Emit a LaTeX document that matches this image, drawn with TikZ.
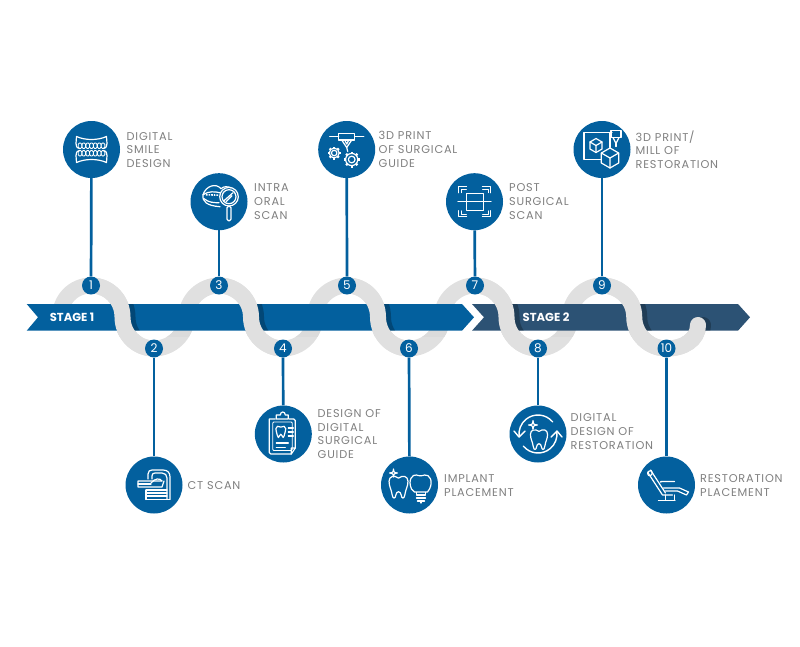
\documentclass[tikz,border=0pt]{standalone}
\usepackage{fontspec}
\setmainfont{Poppins}
\usetikzlibrary{arrows.meta,calc}
\definecolor{barblue}{HTML}{03609E}
\definecolor{bardark}{HTML}{2C5274}
\definecolor{wavegray}{HTML}{E0E0E0}
\definecolor{labelgray}{HTML}{7F7F7F}
\newcommand\toothpath{(-9,-5) .. controls (-9,-10) and (-4,-11) .. (0,-8) .. controls (4,-11) and (9,-10) .. (9,-5) .. controls (9,0) and (7,2) .. (6,8) .. controls (5.5,12) and (3,12) .. (2.5,8) .. controls (2,4) and (-2,4) .. (-2.5,8) .. controls (-3,12) and (-5.5,12) .. (-6,8) .. controls (-7,2) and (-9,0) .. (-9,-5) -- cycle}
\newcommand\sparkle[3]{\draw[icon,shift={(#1,#2)}] (0,-#3) .. controls (0.5,-0.5) .. (#3,0) .. controls (0.5,0.5) .. (0,#3) .. controls (-0.5,0.5) .. (-#3,0) .. controls (-0.5,-0.5) .. (0,-#3) -- cycle;}
\newcommand\gearicon[3]{\begin{scope}[shift={(#1,#2)}]
\draw[icon] (0,0) circle (0.42*#3) (0,0) circle (0.76*#3);
\foreach \a in {0,45,...,315} \draw[icon,line width=2.2pt,line cap=butt] (\a+0:0.76*#3) -- (\a+0:#3);
\end{scope}}
\newcommand\cubeicon[3]{\begin{scope}[shift={(#1,#2)}]
\draw[icon,line join=round] (90:#3) -- (30:#3) -- (-30:#3) -- (-90:#3) -- (-150:#3) -- (150:#3) -- cycle;
\draw[icon] (0,0) -- (90:#3) (0,0) -- (-30:#3) (0,0) -- (-150:#3);
\end{scope}}
\tikzset{
  x=1pt,y=-1pt,
  wave/.style={draw=wavegray,line width=16pt},
  icon/.style={draw=white,line width=1.2pt,line cap=round,line join=round},
  iconcircle/.style={circle,fill=barblue,minimum size=57pt,inner sep=0pt},
  numcircle/.style={circle,fill=barblue,minimum size=18pt,inner sep=0pt,text=white,font=\fontsize{12}{12}\selectfont},
  stem/.style={draw=barblue,line width=2.7pt},
  lab/.style={anchor=west,inner sep=0pt,align=left,text=labelgray,font=\fontsize{11.3}{13.7}\selectfont\addfontfeatures{LetterSpace=7}},
  stage/.style={inner sep=0pt,text=white,font=\fontsize{11.6}{12}\bfseries\selectfont},
}
\newcommand\barone{(26.7,304) -- (462,304) -- (474,317.3) -- (462,330.7) -- (26.7,330.7) -- (38,317.3) -- cycle}
\newcommand\bartwo{(472,304) -- (738,304) -- (750,317.3) -- (738,330.7) -- (472,330.7) -- (484,317.3) -- cycle}
\begin{document}
\begin{tikzpicture}
\useasboundingbox (0,0) rectangle (800,646);
\coordinate (w1) at (91,285.5);\coordinate (w2) at (154,348.5);
\coordinate (w3) at (219,285.5);\coordinate (w4) at (283,348.5);
\coordinate (w5) at (347,285.5);\coordinate (w6) at (409,348.5);
\coordinate (w7) at (475,285.5);\coordinate (w8) at (538,348.5);
\coordinate (w9) at (602,285.5);\coordinate (w10) at (666.5,348.5);
\coordinate (ws) at (60,317);\coordinate (we) at (698,325);
\newcommand\fullwave{(ws) .. controls +(0,-17.5) and +(-17.5,0) .. (w1)
 .. controls +(17.5,0) and +(0,-17.5) .. ($(w1)!.5!(w2)$) .. controls +(0,17.5) and +(-17.5,0) .. (w2)
 .. controls +(17.5,0) and +(0,17.5) .. ($(w2)!.5!(w3)$) .. controls +(0,-17.5) and +(-17.5,0) .. (w3)
 .. controls +(17.5,0) and +(0,-17.5) .. ($(w3)!.5!(w4)$) .. controls +(0,17.5) and +(-17.5,0) .. (w4)
 .. controls +(17.5,0) and +(0,17.5) .. ($(w4)!.5!(w5)$) .. controls +(0,-17.5) and +(-17.5,0) .. (w5)
 .. controls +(17.5,0) and +(0,-17.5) .. ($(w5)!.5!(w6)$) .. controls +(0,17.5) and +(-17.5,0) .. (w6)
 .. controls +(17.5,0) and +(0,17.5) .. ($(w6)!.5!(w7)$) .. controls +(0,-17.5) and +(-17.5,0) .. (w7)
 .. controls +(17.5,0) and +(0,-17.5) .. ($(w7)!.5!(w8)$) .. controls +(0,17.5) and +(-17.5,0) .. (w8)
 .. controls +(17.5,0) and +(0,17.5) .. ($(w8)!.5!(w9)$) .. controls +(0,-17.5) and +(-17.5,0) .. (w9)
 .. controls +(17.5,0) and +(0,-17.5) .. ($(w9)!.5!(w10)$) .. controls +(0,17.5) and +(-17.5,0) .. (w10)
 .. controls +(17,0) and +(0,15) .. (we)}
\newcommand\downwave{(w1) .. controls +(17.5,0) and +(0,-17.5) .. ($(w1)!.5!(w2)$) .. controls +(0,17.5) and +(-17.5,0) .. (w2)
 (w3) .. controls +(17.5,0) and +(0,-17.5) .. ($(w3)!.5!(w4)$) .. controls +(0,17.5) and +(-17.5,0) .. (w4)
 (w5) .. controls +(17.5,0) and +(0,-17.5) .. ($(w5)!.5!(w6)$) .. controls +(0,17.5) and +(-17.5,0) .. (w6)
 (w7) .. controls +(17.5,0) and +(0,-17.5) .. ($(w7)!.5!(w8)$) .. controls +(0,17.5) and +(-17.5,0) .. (w8)
 (w9) .. controls +(17.5,0) and +(0,-17.5) .. ($(w9)!.5!(w10)$) .. controls +(0,17.5) and +(-17.5,0) .. (w10)}
\newcommand\lastwave{(w10) .. controls +(17,0) and +(0,15) .. (we)}
\draw[wave] \fullwave;
% soft shade under the bars on the rising parts
\begin{scope}
\clip (26,330) rectangle (750,336);
\draw[draw=black!14,line width=16pt] \fullwave;
\end{scope}
\fill[barblue] \barone;
\fill[bardark] \bartwo;
% cast shadow on the bars
\begin{scope}
\clip \barone \bartwo;
\begin{scope}[transform canvas={xshift=5pt}]
\draw[draw=black,opacity=.25,line width=16pt] \downwave;
\draw[draw=black,opacity=.25,line width=16pt,line cap=round] \lastwave;
\end{scope}
\end{scope}
\draw[wave] \downwave;
\draw[wave,line cap=round] \lastwave;
% stage labels
\node[stage] (s1) at (72,317.3) {STAGE 1};
\node[stage] (s2) at (546,317.3) {STAGE 2};
% nodes
\foreach \n/\x/\y in {1/91.5/149.5,2/154/485,3/219/201.7,4/283.3/434,5/346.7/149.5,6/409.5/485,7/474.5/201.7,8/538/434,9/602/149.5,10/666.5/485}{
  \node[iconcircle] (c\n) at (\x,\y) {};
  \node[numcircle] (n\n) at (w\n) {\n};
  \draw[stem] (c\n) -- (n\n);
}
% labels
\node[lab] (l1) at (126.5,150) {DIGITAL\\SMILE\\DESIGN};
\node[lab] (l2) at (187.5,485.5) {CT SCAN};
\node[lab] (l3) at (254,201.5) {INTRA\\ORAL\\SCAN};
\node[lab] (l4) at (317.5,434) {DESIGN OF\\DIGITAL\\SURGICAL\\GUIDE};
\node[lab] (l5) at (378.5,149.5) {3D PRINT\\OF SURGICAL\\GUIDE};
\node[lab] (l6) at (444,485.5) {IMPLANT\\PLACEMENT};
\node[lab] (l7) at (509,201.5) {POST\\SURGICAL\\SCAN};
\node[lab] (l8) at (570.5,431.5) {DIGITAL\\DESIGN OF\\RESTORATION};
\node[lab] (l9) at (635.5,149.5) {3D PRINT/\\MILL OF\\RESTORATION};
\node[lab] (l10) at (700,485.5) {RESTORATION\\PLACEMENT};
% icon 1: dentures
\begin{scope}[shift={(c1)}]
\draw[icon] (-15,-13) .. controls (-6,-9) and (6,-9) .. (15,-13) -- (15.5,-6) .. controls (15,-2) and (14,-1) .. (12,-1);
\draw[icon] (-15,-13) -- (-15.5,-6) .. controls (-15,-2) and (-14,-1) .. (-12,-1);
\draw[icon] (-15,13) .. controls (-6,9) and (6,9) .. (15,13) -- (15.5,6) .. controls (15,2) and (14,1) .. (12,1);
\draw[icon] (-15,13) -- (-15.5,6) .. controls (-15,2) and (-14,1) .. (-12,1);
\foreach \tx in {-11.5,-7.7,-3.8,0,3.8,7.7,11.5}{
 \draw[icon,line width=.9pt,rounded corners=1.3pt] (\tx-1.8,-6.5) rectangle (\tx+1.8,-1);
 \draw[icon,line width=.9pt,rounded corners=1.3pt] (\tx-1.8,1) rectangle (\tx+1.8,6.5);
}
\end{scope}
% icon 3: mouth and magnifier
\begin{scope}[shift={(c3)}]
\draw[icon] (2,-13) .. controls (-3,-19) and (-13,-16) .. (-16,-7) .. controls (-17,0) and (-12,4) .. (1,5);
\draw[icon] (2,-13) .. controls (5,-16) and (9,-15) .. (12,-14);
\draw[icon] (-16,-7) .. controls (-10,-11) and (-4,-10) .. (1,-9);
\draw[icon] (-15,-3) .. controls (-10,1) and (-5,1) .. (0,1);
\draw[icon,dash pattern=on 1.6pt off 1pt,line cap=butt,line width=1.6pt] (-13,-7) -- (0,-6.5);
\draw[icon] (10,-5) circle (9.3) (10,-5) circle (7);
\draw[icon] (5,-1) -- (14,-9) (7,0) -- (13,-6);
\draw[icon,rounded corners=1.5pt] (8,4.5) rectangle (12,19);
\end{scope}
% icon 5: printer and gears
\begin{scope}[shift={(c5)}]
\draw[icon,line width=1.4pt] (-17,-13) -- (-8,-13) (8,-13) -- (17,-13);
\draw[icon] (-8,-16) rectangle (8,-9.5);
\draw[icon] (-5,-9.5) -- (0,-2) -- (5,-9.5) (-2,-9.5) -- (0,-5.5) -- (2,-9.5);
\draw[icon] (0,-2) -- (1,2);
\gearicon{-12.5}{3.5}{6.5}
\gearicon{5}{10}{8}
\end{scope}
% icon 7: scan frame
\begin{scope}[shift={(c7)}]
\draw[icon] (-16,-9) -- (-16,-15) -- (-8,-15) (16,-9) -- (16,-15) -- (8,-15) (-16,9) -- (-16,15) -- (-8,15) (16,9) -- (16,15) -- (8,15);
\draw[icon,line width=.8pt] (-13.5,-9) -- (-13.5,-12.5) -- (-8,-12.5) (13.5,-9) -- (13.5,-12.5) -- (8,-12.5) (-13.5,9) -- (-13.5,12.5) -- (-8,12.5) (13.5,9) -- (13.5,12.5) -- (8,12.5);
\draw[icon,line width=.8pt] (-8.5,-8.5) rectangle (8.5,8.5);
\draw[icon] (-16.5,0) -- (16.5,0);
\end{scope}
% icon 9: printer with cubes
\begin{scope}[shift={(c9)}]
\draw[icon,line width=1.4pt] (10,-17) -- (-18,-17) -- (-18,10) -- (-1,10);
\draw[icon] (8,-17) -- (8,-2);
\draw[icon] (9,-19) rectangle (19,-12);
\draw[icon] (11,-12) -- (14,-6) -- (17,-12);
\draw[icon] (14,-6) -- (14,-3);
\cubeicon{-6}{-4}{7}
\fill[barblue] (8,-1.5) -- ++(8.7,5) -- ++(0,10) -- ++(-8.7,5) -- ++(-8.7,-5) -- ++(0,-10) -- cycle;
\cubeicon{8}{8.5}{10}
\end{scope}
% icon 2: CT scanner
\begin{scope}[shift={(c2)}]
\draw[icon] (-6,-6) -- (-6,-11) .. controls (-6,-14) and (-4,-15) .. (-2,-15) -- (9,-15) .. controls (14,-15) and (16,-12) .. (16,-8) -- (16,14);
\draw[icon] (-2,-6) -- (-2,-9) .. controls (-2,-11) and (-1,-12) .. (1,-12) -- (8,-12) .. controls (11,-12) and (13,-10) .. (13,-7) -- (13,14);
\draw[icon] (-16,-4) -- (8,-4) (-16,-4) -- (-16,2) -- (8,2) -- (10,-4);
\draw[icon] (-16,-1) -- (-3,-1);
\draw[icon] (-3,-2) .. controls (1,-7) and (6,-7) .. (8,-4);
\draw[icon] (-8,5) -- (13,5) (-8,8) -- (13,8) (-8,11) -- (13,11) (-8,14.5) -- (16,14.5) (-8,5) -- (-8,14.5);
\end{scope}
% icon 4: clipboard
\begin{scope}[shift={(c4)}]
\draw[icon,rounded corners=1.5pt] (-14,-15) -- (-14,20) -- (8,20) (12,14) -- (12,-15) -- (6,-15) (-8,-15) -- (-14,-15);
\draw[icon,line width=.8pt,rounded corners=1pt] (-10.5,-12) rectangle (9,16.5);
\draw[icon] (-7,-15) -- (-7,-19) -- (-3,-19) .. controls (-3,-23) and (2,-23) .. (2,-19) -- (5,-19) -- (5,-15) -- cycle;
\begin{scope}[shift={(-2.5,-2.5)},scale=.55]
\draw[icon] \toothpath;
\end{scope}
\draw[icon] (5,-6) -- (10,-6) (5,-2) -- (10,-2) (5,2) -- (10,2);
\draw[icon] (-7,9) -- (5,9) (-7,13.5) -- (2,13.5);
\draw[icon] (8,20) -- (12,14) (8,20) -- (8,14) -- (12,14);
\end{scope}
% icon 6: tooth and implant
\begin{scope}[shift={(c6)}]
\begin{scope}[shift={(-11,1.5)},scale=1.05]
\draw[icon] \toothpath;
\end{scope}
\sparkle{-16}{-12}{4}
\draw[icon] (2,4) .. controls (-2,-5) and (3,-11) .. (7,-10) .. controls (9,-9) and (13,-9) .. (15,-10) .. controls (20,-11) and (24,-4) .. (20,4) -- (18,7) -- (5,7) -- cycle;
\draw[icon] (7,7.5) -- (7,10) -- (16,10) -- (16,7.5);
\draw[icon,line width=1.4pt] (7,13) -- (16,13) (8,16) -- (15,16);
\draw[icon] (11.5,16) -- (11.5,18);
\end{scope}
% icon 8: circular arrows and tooth
\begin{scope}[shift={(c8)}]
\begin{scope}[shift={(1,5)},scale=.95]
\draw[icon] \toothpath;
\end{scope}
\fill[barblue] (-5,-9) circle (5);
\sparkle{-5}{-9}{4.5}
\draw[icon,line width=1.4pt] (320:19) arc[start angle=320,end angle=172,radius=19];
\draw[icon,line width=1.4pt] (140:19) arc[start angle=140,end angle=-8,radius=19];
\draw[icon,line width=1.4pt] (-24,-3) -- (-19,3) -- (-13,-3);
\draw[icon,line width=1.4pt] (13,3) -- (19,-3) -- (24,3);
\end{scope}
% icon 10: dental chair
\begin{scope}[shift={(c10)}]
\draw[icon] (-19,-13) -- (-4,10) -- (6,10);
\draw[icon] (-16,-15) -- (-1,8);
\draw[icon,rounded corners=1.5pt] (-19.5,-10) -- (-17,-15) -- (-14,-14) -- (-15,-9) -- cycle;
\draw[icon,line width=1.4pt] (-6,-3) -- (-5,-3.5) -- (8,-3.5);
\draw[icon] (-3,3) -- (13,3) -- (22,7) -- (20,10) -- (11,6) -- (-1,6);
\draw[icon] (-1,10) -- (-1,15) (8,10) -- (8,15);
\draw[icon,line width=1.4pt] (-8,15.5) -- (8.5,15.5);
\end{scope}
\end{tikzpicture}
\end{document}
